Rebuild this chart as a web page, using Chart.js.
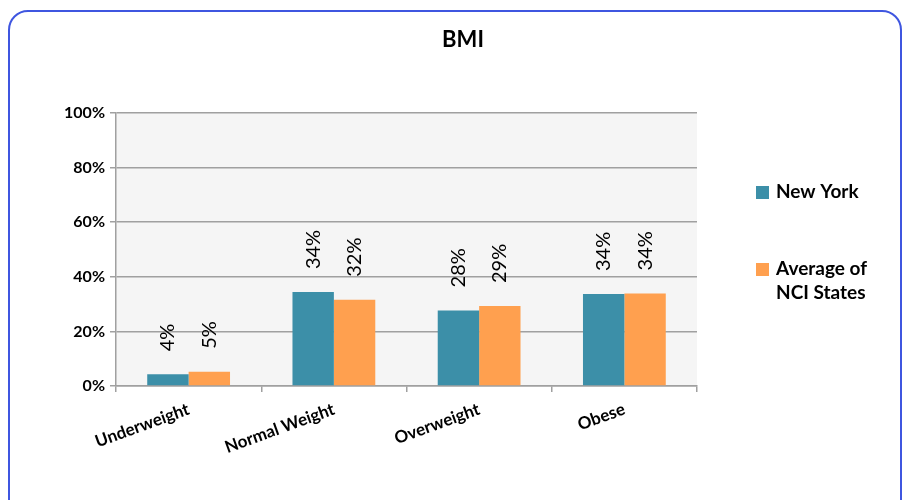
<!DOCTYPE html>
<html>
<head>
<meta charset="utf-8">
<script src="https://cdn.jsdelivr.net/npm/chart.js@4"></script>
<style>
  body { margin: 0; background: #fff; }
  #wrap { position: relative; width: 903px; height: 500px; overflow: hidden; }
  #frame {
    position: absolute; left: 8px; top: 10px; width: 890px; height: 520px;
    border: 2px solid #3f56e0; border-radius: 20px;
  }
  canvas { position: absolute; left: 0; top: 0; }
</style>
</head>
<body>
<div id="wrap">
  <div id="frame"></div>
  <canvas id="chart" width="903" height="500"></canvas>
</div>
<script>
// BMI chart data
const categories = ['Underweight', 'Normal Weight', 'Overweight', 'Obese'];
const newYork = [4.3, 34.4, 27.7, 33.7];
const nciStates = [5.2, 31.6, 29.3, 33.9];
const yTicks = [0, 20, 40, 60, 80, 100];
const seriesNames = ['New York', ['Average of', 'NCI States']];

const teal = '#3c8fa8';
const orange = '#ffa04f';
const font = 'Lato, "Open Sans", sans-serif';

// Plot background
const plotBg = {
  id: 'plotBg',
  beforeDraw(chart) {
    const { ctx, chartArea: a } = chart;
    ctx.save();
    ctx.fillStyle = '#f5f5f5';
    ctx.fillRect(a.left, a.top, a.right - a.left, a.bottom - a.top);
    ctx.restore();
  }
};

// Title, value labels and legend
const extras = {
  id: 'extras',
  afterDraw(chart) {
    const { ctx } = chart;
    ctx.save();
    ctx.fillStyle = '#000';
    ctx.font = `bold 22px ${font}`;
    ctx.textAlign = 'center';
    ctx.textBaseline = 'middle';
    ctx.fillText('BMI', 463, 40);

    // rotated value labels
    ctx.font = `20px ${font}`;
    chart.data.datasets.forEach((ds, i) => {
      chart.getDatasetMeta(i).data.forEach((bar, j) => {
        ctx.save();
        ctx.translate(bar.x, bar.y - 23);
        ctx.rotate(-Math.PI / 2);
        ctx.textAlign = 'left';
        ctx.textBaseline = 'middle';
        ctx.fillText(Math.round(ds.data[j]) + '%', 0, 0);
        ctx.restore();
      });
    });

    // legend
    ctx.font = `bold 19px ${font}`;
    ctx.textAlign = 'left';
    ctx.textBaseline = 'middle';
    const rows = [192, 269];
    chart.data.datasets.forEach((ds, i) => {
      const y = rows[i];
      ctx.fillStyle = ds.backgroundColor;
      ctx.fillRect(756, y - 6, 13, 13);
      ctx.fillStyle = '#000';
      const lines = Array.isArray(seriesNames[i]) ? seriesNames[i] : [seriesNames[i]];
      lines.forEach((t, k) => ctx.fillText(t, 776, y + k * 24));
    });
    ctx.restore();
  }
};

new Chart(document.getElementById('chart'), {
  type: 'bar',
  data: {
    labels: categories,
    datasets: [
      { label: 'New York', data: newYork, backgroundColor: teal },
      { label: 'Average of NCI States', data: nciStates, backgroundColor: orange }
    ]
  },
  options: {
    responsive: false,
    animation: false,
    events: [],
    layout: { padding: { top: 113, right: 206, left: 0, bottom: 0 } },
    datasets: {
      bar: { categoryPercentage: 0.57, barPercentage: 1.0 }
    },
    plugins: {
      legend: { display: false },
      title: { display: false },
      tooltip: { enabled: false }
    },
    scales: {
      x: {
        afterFit: s => { s.height = 114; },
        grid: {
          offset: true,
          drawOnChartArea: false,
          drawTicks: true,
          tickLength: 6,
          color: '#a0a0a0',
          lineWidth: 1.5
        },
        border: { color: '#a0a0a0', width: 1.5 },
        ticks: {
          color: '#000',
          font: { family: font, size: 17, weight: 'bold' },
          maxRotation: 20,
          minRotation: 20,
          labelOffset: 0,
          padding: 7
        }
      },
      y: {
        min: 0,
        max: 100,
        afterFit: s => { s.width = 116; },
        afterBuildTicks: s => { s.ticks = yTicks.map(v => ({ value: v })); },
        grid: {
          color: '#a0a0a0',
          lineWidth: 1.5,
          tickLength: 6
        },
        border: { color: '#a0a0a0', width: 1.5 },
        ticks: {
          color: '#000',
          font: { family: font, size: 16, weight: 'bold' },
          padding: 5,
          callback: v => v + '%'
        }
      }
    }
  },
  plugins: [plotBg, extras]
});
</script>
</body>
</html>
